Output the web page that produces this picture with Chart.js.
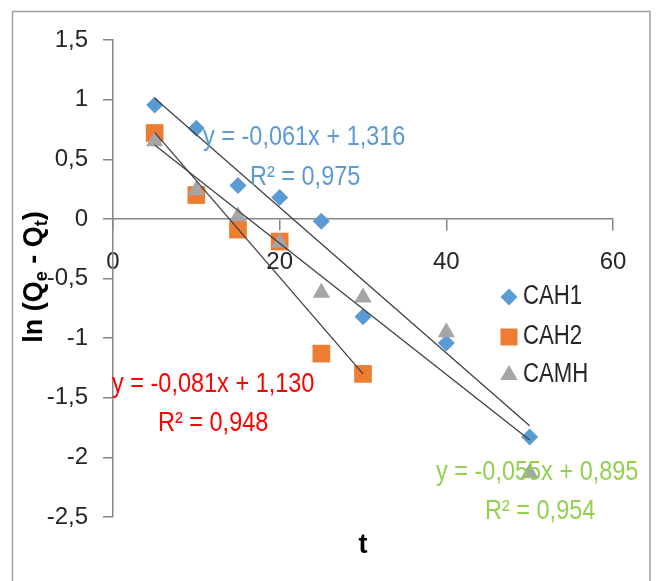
<!DOCTYPE html>
<html>
<head>
<meta charset="utf-8">
<script src="https://cdn.jsdelivr.net/npm/chart.js@4.4.1/dist/chart.umd.min.js"></script>
<style>
body{margin:0;background:#fff}
canvas{display:block}
</style>
</head>
<body>
<canvas id="chart" width="657" height="581"></canvas>
<script>
// data
const seriesNames=['CAH1','CAH2','CAMH']
const tValues=[5,10,15,20,25,30,40,50]
const cah1=[0.955,0.76,0.28,0.18,-0.02,-0.82,-1.04,-1.83]
const cah2=[0.72,0.2,-0.09,-0.19,-1.13,-1.30]
const camh=[0.65,0.24,0.02,-0.2,-0.62,-0.66,-0.95,-2.13]
// trendlines as printed on the chart
const trendSlopes=[-0.061,-0.081,-0.055]
const trendIntercepts=[1.316,1.130,0.895]
const trendFrom=[5,5,5]
const trendTo=[50,30,50]
const equationTexts=['y = -0,061x + 1,316','y = -0,081x + 1,130','y = -0,055x + 0,895']
const r2Texts=['R² = 0,975','R² = 0,948','R² = 0,954']
const xMin=0,xMax=60,xStep=20
const yMin=-2.5,yMax=1.5,yStep=0.5

const markerColors=['#5b9bd5','#ed7d31','#a5a5a5']
const labelColors=['#5b9bd5','#ff0000','#92d050']
const fam='"Liberation Sans",Arial,sans-serif'

function toPoints(ys){
    return ys.map((y,i)=>({x:tValues[i],y:y}))
}
function trendPoints(i){
    return [trendFrom[i],trendTo[i]].map(x=>({x:x,y:trendSlopes[i]*x+trendIntercepts[i]}))
}
function comma(v){
    return String(Math.round(v*10)/10).replace('.',',')
}

// the original text is a squeezed Calibri, so squeeze Liberation Sans sideways
function narrowText(ctx,text,x,y,squeeze){
    ctx.save()
    ctx.translate(x,y)
    ctx.scale(squeeze,1)
    ctx.fillText(text,0,0)
    ctx.restore()
}

function drawMarker(ctx,style,x,y,color){
    ctx.save()
    ctx.fillStyle=color
    ctx.beginPath()
    if(style=='diamond'){
        ctx.moveTo(x,y-8.5);ctx.lineTo(x+8.5,y);ctx.lineTo(x,y+8.5);ctx.lineTo(x-8.5,y)
    }else if(style=='square'){
        ctx.rect(x-8.5,y-8.5,17,17)
    }else{
        ctx.moveTo(x,y-10);ctx.lineTo(x+8.7,y+5);ctx.lineTo(x-8.7,y+5)
    }
    ctx.closePath()
    ctx.fill()
    ctx.restore()
}

const extras={
    id:'extras',
    beforeDraw(chart){
        const ctx=chart.ctx
        ctx.save()
        ctx.strokeStyle='#a0a0a0'
        ctx.lineWidth=1.5
        ctx.beginPath()
        ctx.moveTo(12.5,600);ctx.lineTo(12.5,11.5);ctx.lineTo(650,11.5);ctx.lineTo(650,600)
        ctx.stroke()
        ctx.restore()
    },
    afterDraw(chart){
        const ctx=chart.ctx
        ctx.save()
        ctx.textBaseline='middle'
        ctx.textAlign='left'
        ctx.font='27px '+fam
        // trendline labels
        const eqPos=[[203,138],[112,385],[436,473]]
        const r2Pos=[[250,178],[158,424],[485,512]]
        for(let i=0;i<3;i++){
            ctx.fillStyle=labelColors[i]
            narrowText(ctx,equationTexts[i],eqPos[i][0],eqPos[i][1],0.87)
            narrowText(ctx,r2Texts[i],r2Pos[i][0],r2Pos[i][1],0.87)
        }
        // legend
        const styles=['diamond','square','triangle']
        const legendY=[297,337,375]
        for(let i=0;i<3;i++){
            drawMarker(ctx,styles[i],509,legendY[i],markerColors[i])
            ctx.fillStyle='#262626'
            narrowText(ctx,seriesNames[i],523,legendY[i],0.82)
        }
        // x title
        ctx.font='bold 27px '+fam
        ctx.textAlign='center'
        ctx.fillStyle='#000'
        ctx.fillText('t',363,546)
        // y title with subscripts, rotated
        ctx.translate(35,277)
        ctx.rotate(-Math.PI/2)
        const parts=[['ln (Q',false],['e',true],[' - Q',false],['t',true],[')',false]]
        const big='bold 27px '+fam,small='bold 18px '+fam
        let total=0
        parts.forEach(p=>{ctx.font=p[1]?small:big;total+=ctx.measureText(p[0]).width})
        let x=-total/2
        ctx.textAlign='left'
        parts.forEach(p=>{
            ctx.font=p[1]?small:big
            ctx.fillText(p[0],x,p[1]?7:0)
            x+=ctx.measureText(p[0]).width
        })
        ctx.restore()
    }
}

const lineDefaults={showLine:true,pointRadius:0,borderColor:'#404040',borderWidth:1.3,order:0}
new Chart(document.getElementById('chart').getContext('2d'),{
    type:'scatter',
    data:{
        datasets:[
            {label:seriesNames[0],data:toPoints(cah1),pointStyle:'rectRot',pointRadius:8.5,backgroundColor:markerColors[0],pointBorderWidth:0,order:3},
            {label:seriesNames[1],data:toPoints(cah2),pointStyle:'rect',pointRadius:12.5,backgroundColor:markerColors[1],pointBorderWidth:0,order:2},
            {label:seriesNames[2],data:toPoints(camh),pointStyle:'triangle',pointRadius:10,backgroundColor:markerColors[2],pointBorderWidth:0,order:1},
            Object.assign({label:'trend1',data:trendPoints(0)},lineDefaults),
            Object.assign({label:'trend2',data:trendPoints(1)},lineDefaults),
            Object.assign({label:'trend3',data:trendPoints(2)},lineDefaults)
        ]
    },
    options:{
        responsive:false,
        animation:false,
        layout:{padding:{left:0,top:40,right:44,bottom:64}},
        plugins:{legend:{display:false},tooltip:{enabled:false}},
        scales:{
            x:{
                type:'linear',min:xMin,max:xMax,
                position:{y:0},
                ticks:{stepSize:xStep,color:'#262626',padding:18,font:{family:fam,size:24},maxRotation:0},
                grid:{drawOnChartArea:false,drawTicks:true,tickLength:11,color:'#868686',lineWidth:1.5},
                border:{display:true,color:'#868686',width:1.5}
            },
            y:{
                type:'linear',min:yMin,max:yMax,
                ticks:{stepSize:yStep,color:'#262626',padding:15,font:{family:fam,size:24},callback:v=>comma(v)},
                grid:{drawOnChartArea:false,drawTicks:true,tickLength:10,color:'#868686',lineWidth:1.5},
                border:{display:true,color:'#868686',width:1.5},
                afterFit(scale){scale.width=113}
            }
        }
    },
    plugins:[extras]
})
</script>
</body>
</html>
